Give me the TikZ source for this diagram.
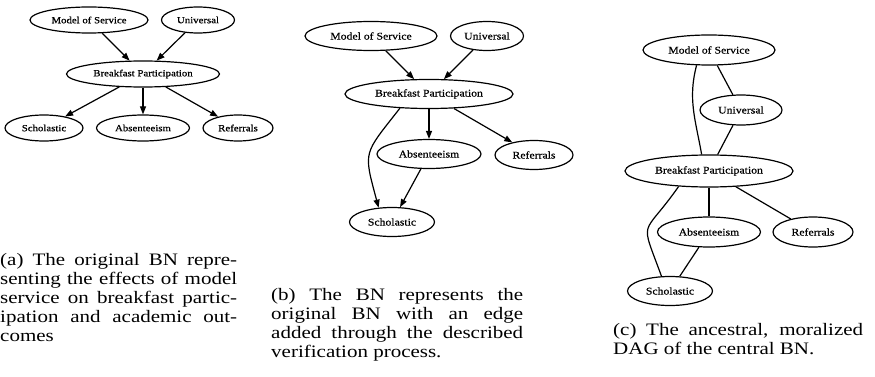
\documentclass[tikz,border=0pt]{standalone}
\usepackage{fontspec}
\setmainfont{Liberation Serif}
\newfontfamily\capfont{Liberation Serif}[FakeStretch=1.2]
\newfontfamily\varfont{Liberation Serif}[FakeStretch=1.15, FakeBold=0.6]
\usetikzlibrary{shapes.geometric,arrows.meta}

\tikzset{
    var/.style={draw, ellipse, inner sep=0pt, line width=1.2pt},
    smallvar/.style={var, minimum height=26pt, font=\varfont\fontsize{9.4}{10}\selectfont},
    bigvar/.style={var, minimum height=29pt, font=\varfont\fontsize{10.2}{11}\selectfont},
    edge/.style={-{Triangle[length=8pt,width=6pt]}, line width=1.2pt},
    moral/.style={line width=1.2pt},
    caption/.style={anchor=north west, inner sep=0pt, align=justify,
        font=\capfont\fontsize{17.5}{19}\selectfont}
}

\begin{document}
\begin{tikzpicture}[x=1pt,y=-1pt]
    \useasboundingbox (0,0) rectangle (875,377);

    % (a) original BN
    \node[smallvar, minimum width=118pt] (aM) at (89,20)   {Model of Service};
    \node[smallvar, minimum width=73pt]  (aU) at (198,20)  {Universal};
    \node[smallvar, minimum width=153pt] (aB) at (143,74)  {Breakfast Participation};
    \node[smallvar, minimum width=78pt]  (aS) at (44,128)  {Scholastic};
    \node[smallvar, minimum width=93pt]  (aA) at (143,128) {Absenteeism};
    \node[smallvar, minimum width=70pt]  (aR) at (238,128) {Referrals};

    \draw [edge] (aM) -- (aB);
    \draw [edge] (aU) -- (aB);
    \draw [edge] (aB) -- (aS);
    \draw [edge] (aB) -- (aA);
    \draw [edge] (aB) -- (aR);

    % (b) BN with the added edge
    \node[bigvar, minimum width=132pt] (bM) at (371,36)  {Model of Service};
    \node[bigvar, minimum width=73pt]  (bU) at (487,36)  {Universal};
    \node[bigvar, minimum width=168pt] (bB) at (429,94)  {Breakfast Participation};
    \node[bigvar, minimum width=104pt] (bA) at (429,154) {Absenteeism};
    \node[bigvar, minimum width=78pt]  (bR) at (534,155) {Referrals};
    \node[bigvar, minimum width=85pt]  (bS) at (392,222) {Scholastic};

    \draw [edge] (bM) -- (bB);
    \draw [edge] (bU) -- (bB);
    \draw [edge] (bB) -- (bA);
    \draw [edge] (bB) -- (bR);
    \draw [edge] (bA) -- (bS);
    \draw [edge] (bB.206) to[out=232, in=105, looseness=1.5] (bS.133);

    % (c) ancestral, moralized DAG
    \node[bigvar, minimum width=132pt, minimum height=30pt] (cM) at (709,50)  {Model of Service};
    \node[bigvar, minimum width=82pt,  minimum height=30pt] (cU) at (741,110) {Universal};
    \node[bigvar, minimum width=168pt, minimum height=32pt] (cB) at (709,171) {Breakfast Participation};
    \node[bigvar, minimum width=103pt, minimum height=30pt] (cA) at (709,232) {Absenteeism};
    \node[bigvar, minimum width=80pt,  minimum height=30pt] (cR) at (813,232) {Referrals};
    \node[bigvar, minimum width=85pt]                       (cS) at (670,291) {Scholastic};

    \draw [moral] (cM) -- (cU);
    \draw [moral] (cU) -- (cB);
    \draw [moral] (cM.231) to[out=255, in=100] (cB.114);
    \draw [moral] (cB) -- (cA);
    \draw [moral] (cB) -- (cR);
    \draw [moral] (cA) -- (cS);
    \draw [moral] (cB.207) to[out=235, in=110, looseness=1.8] (cS.120);

    % captions
    \node[caption, text width=237pt] (capa) at (0,253)
        {(a) The original BN repre-\linebreak senting the effects of model\linebreak
         service on breakfast partic-\linebreak ipation and academic out-\linebreak comes};
    \node[caption, text width=252pt] (capb) at (271,288)
        {(b) The BN represents the\linebreak original BN with an edge\linebreak
         added through the described\linebreak verification process.};
    \node[caption, text width=250pt] (capc) at (613,323)
        {(c) The ancestral, moralized\linebreak DAG of the central BN.};
\end{tikzpicture}
\end{document}
